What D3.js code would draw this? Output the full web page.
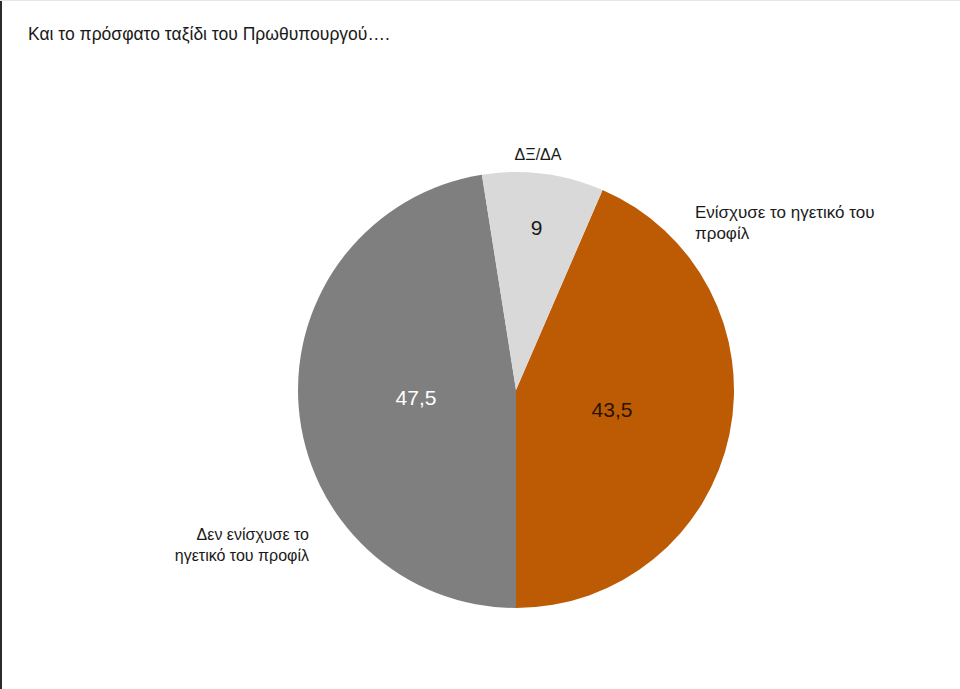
<!DOCTYPE html>
<html>
<head>
<meta charset="utf-8">
<script src="https://cdn.jsdelivr.net/npm/d3@7"></script>
<style>
  body { margin: 0; background: #fff; }
  svg { display: block; font-family: "Liberation Sans", Arial, sans-serif; }
</style>
</head>
<body>
<script>
// data
const categories = ["Ενίσχυσε το ηγετικό του προφίλ", "Δεν ενίσχυσε το ηγετικό του προφίλ", "ΔΞ/ΔΑ"];
const values = [43.5, 47.5, 9];
const valueLabels = ["43,5", "47,5", "9"];
const title = "Και το πρόσφατο ταξίδι του Πρωθυπουργού….";

function main(){
    const width = 960;
    const height = 689;
    const cx = 516, cy = 390, radius = 218;

    const svg = d3.select("body").append("svg")
        .attr("width", width)
        .attr("height", height);

    // frame edges
    svg.append("rect").attr("x", 0).attr("y", 0).attr("width", 2).attr("height", height).attr("fill", "#2b2b2b");
    svg.append("rect").attr("x", 0).attr("y", 0).attr("width", width).attr("height", 1).attr("fill", "#e6e6e6");

    svg.append("text")
        .attr("x", 28).attr("y", 40)
        .attr("font-size", 17.5)
        .attr("fill", "#1a1a1a")
        .text(title);

    const color = d3.scaleOrdinal()
        .domain(categories)
        .range(["#bd5a04", "#7e7f7e", "#d9d9d9"]);
    const textColor = d3.scaleOrdinal()
        .domain(categories)
        .range(["#2a1400", "#ffffff", "#1a1a1a"]);

    // first slice ends at the bottom (Excel-like rotation)
    const start = Math.PI - values[0] / d3.sum(values) * 2 * Math.PI;
    const pie = d3.pie().sort(null).value(d => d.value)
        .startAngle(start).endAngle(start + 2 * Math.PI);

    const rows = categories.map((c, i) => ({name: c, value: values[i], label: valueLabels[i]}));
    const arcs = pie(rows);

    const g = svg.append("g").attr("transform", `translate(${cx},${cy})`);
    const arc = d3.arc().innerRadius(0).outerRadius(radius);

    g.selectAll("path")
        .data(arcs)
        .enter().append("path")
        .attr("d", arc)
        .attr("fill", d => color(d.data.name));

    // value labels, pushed out more for the small slice
    const labelR = [0.45, 0.46, 0.75];
    g.selectAll(".val")
        .data(arcs)
        .enter().append("text")
        .attr("class", "val")
        .attr("transform", (d, i) => {
            const r = radius * labelR[i];
            const a = (d.startAngle + d.endAngle) / 2;
            return `translate(${r * Math.sin(a)},${-r * Math.cos(a)})`;
        })
        .attr("text-anchor", "middle")
        .attr("dy", "0.35em")
        .attr("font-size", 21)
        .attr("fill", d => textColor(d.data.name))
        .text(d => d.data.label);

    // category labels
    const catLines = [["Ενίσχυσε το ηγετικό του", "προφίλ"], ["Δεν ενίσχυσε το", "ηγετικό του προφίλ"], ["ΔΞ/ΔΑ"]];
    const catPos = [[179, -172, "start", 17], [-207, 150, "end", 16], [22, -230, "middle", 16]];
    catLines.forEach((lines, i) => {
        const t = g.append("text")
            .attr("x", catPos[i][0]).attr("y", catPos[i][1])
            .attr("text-anchor", catPos[i][2])
            .attr("font-size", catPos[i][3])
            .attr("fill", "#1a1a1a");
        lines.forEach((l, j) => {
            t.append("tspan").attr("x", catPos[i][0]).attr("dy", j === 0 ? 0 : 21).text(l);
        });
    });
}
main();
</script>
</body>
</html>
